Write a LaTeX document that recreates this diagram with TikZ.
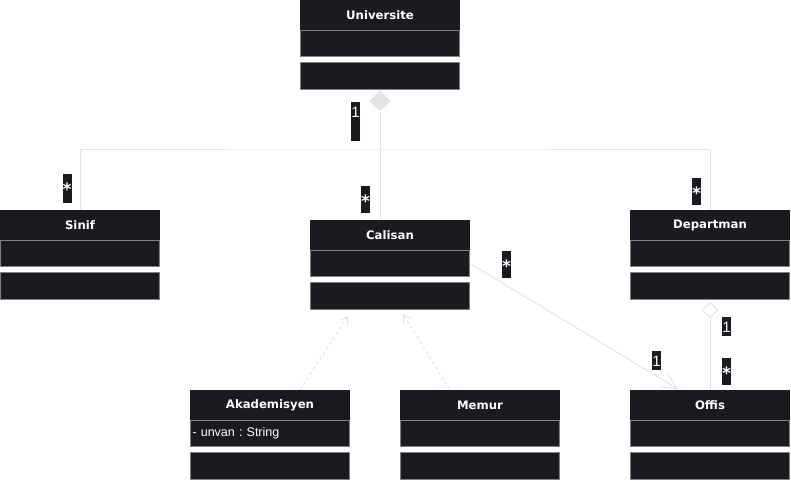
\documentclass[tikz,border=0pt]{standalone}
\usepackage{fontspec}
\usetikzlibrary{shapes.geometric,arrows.meta,calc}
\newfontfamily\hfont{DejaVu Sans}
\newfontfamily\afont{Liberation Sans}
\definecolor{boxc}{RGB}{28,25,33}
\definecolor{bordc}{RGB}{128,128,128}
\definecolor{linec}{RGB}{228,228,228}
\frenchspacing
\newcommand\classbox[5]{%
  \node[hdr] (#1-h) at (#3+80,#4+15) {#2};
  \node[attrc] (#1-a) at (#3+80,#4+43.5) {#5};
  \node[opsc] (#1-o) at (#3+80,#4+76) {};
}
\begin{document}
\begin{tikzpicture}[x=1pt,y=-1pt,
  hdr/.style={fill=boxc, minimum width=160pt, minimum height=30pt, inner sep=0pt,
    text=white, font=\hfont\bfseries\fontsize{11.7}{13}\selectfont},
  cmp/.style={fill=boxc, draw=bordc, line width=1pt, minimum width=159pt, inner sep=0pt,
    inner xsep=2pt, text width=155pt, align=left, text=white,
    font=\afont\frenchspacing\fontsize{12.5}{14}\selectfont},
  attrc/.style={cmp, minimum height=26pt},
  opsc/.style={cmp, minimum height=27pt},
  conn/.style={draw=linec, line width=1pt},
  dep/.style={conn, dash pattern=on 3pt off 3pt, -{Straight Barb[length=7pt,width=9pt]}},
  assoc/.style={conn, -{Straight Barb[length=16pt,width=16pt]}},
  lbl/.style={fill=boxc, text=white, inner sep=0pt, minimum width=9pt, anchor=north},
  onel/.style={lbl, font=\afont\fontsize{15}{15}\selectfont, text height=15pt},
  starl/.style={lbl, font=\hfont\bfseries\fontsize{17}{17}\selectfont, text height=21pt},
]
\useasboundingbox (0,0) rectangle (791,481);

% classes
\classbox{uni}{Universite}{300}{0}{}
\classbox{sinif}{Sinif}{0}{210}{}
\classbox{cal}{Calisan}{310}{220}{}
\classbox{dep}{Departman}{630}{210}{}
\classbox{akad}{Akademisyen}{190}{390}{- unvan : String}
\classbox{memur}{Memur}{400}{390}{}
\classbox{offis}{Offis}{630}{390}{}

% diamonds
\node[diamond, fill=linec, inner sep=0pt, minimum width=22pt, minimum height=21pt] (udia) at (380,101) {};
\node[diamond, draw=linec, fill=white, line width=1pt, inner sep=0pt, minimum width=16pt, minimum height=15pt] (ddia) at (710,310) {};

% composition tree
\coordinate (j) at (380,150);
\draw[conn] (udia.south) -- (j);
\draw[conn] (sinif-h.north) |- (j) -| (dep-h.north);
\draw[conn] (j) -- (j |- cal-h.north);

% Departman - Offis
\draw[conn] (ddia.south) -- (offis-h.north);

% Calisan - Offis association
\coordinate (oarr) at (678,389);
\draw[assoc] (cal-a.east) -- (oarr);

% realizations
\coordinate (cA) at (348,316);
\coordinate (cM) at (403,314);
\draw[dep] ($(akad-h.north)+(30,0)$) -- (cA);
\draw[dep] ($(memur-h.north)+(-30,0)$) -- (cM);

% multiplicity labels
\node[onel, text depth=24pt] (m-uni) at (355.5,102) {1};
\node[starl, text depth=8pt] (m-sinif) at (67,174) {*};
\node[starl, text depth=6pt] (m-cal) at (365.5,186) {*};
\node[starl, text depth=6pt] (m-dep) at (696.5,178) {*};
\node[starl, text depth=6pt] (m-cala) at (506.5,251) {*};
\node[onel, text depth=4pt] (m-offa) at (656.5,351) {1};
\node[onel, text depth=4pt] (m-dep1) at (726.5,317) {1};
\node[starl, text depth=6pt] (m-offd) at (726.5,358) {*};
\end{tikzpicture}
\end{document}
